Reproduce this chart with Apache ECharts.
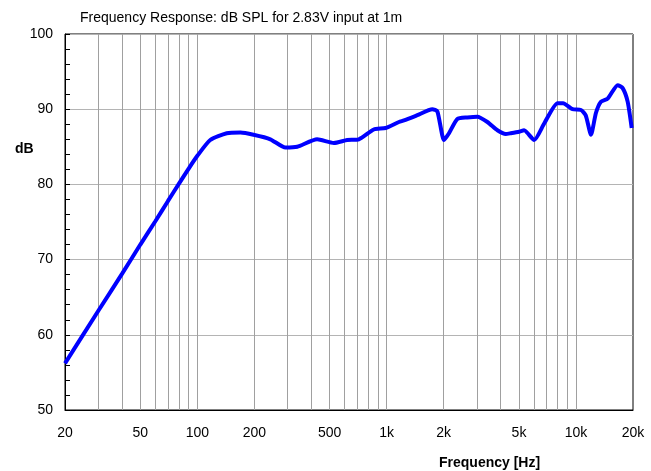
<!DOCTYPE html>
<html>
<head>
<meta charset="utf-8">
<script src="https://cdn.jsdelivr.net/npm/echarts@6/dist/echarts.min.js"></script>
<style>
  html, body { margin: 0; padding: 0; background: #fff; }
  #chart { width: 651px; height: 471px; }
</style>
</head>
<body>
<div id="chart"></div>
<script>
// frequency response (Hz, dB SPL)
var freqs = [20, 30, 40, 50, 60, 70, 80, 90, 100, 117, 143, 169, 198, 243, 292, 337, 429, 526, 619, 713,
  855, 987, 1161, 1234, 1452, 1742, 1853, 2008, 2134, 2362, 2667, 3013, 3404, 3845, 4255, 4520, 5003,
  5320, 6010, 6790, 7985, 8550, 9590, 10620, 11250, 12000, 12740, 13540, 14700, 16600, 17640, 18740, 19680];
var spl = [56.2, 63.2, 68.1, 72.0, 75.1, 77.8, 80.1, 82.1, 83.8, 85.9, 86.8, 86.9, 86.6, 86.0, 84.9, 85.0,
  86.0, 85.5, 85.9, 86.0, 87.3, 87.5, 88.3, 88.5, 89.2, 90.0, 89.7, 85.9, 86.8, 88.7, 88.9, 89.0, 88.3,
  87.2, 86.7, 86.8, 87.0, 87.2, 85.9, 88.1, 90.8, 90.8, 90.0, 89.9, 89.2, 86.6, 89.5, 91.0, 91.4, 93.2,
  92.8, 91.0, 87.5];

var xLabelValues = [20, 50, 100, 200, 500, 1000, 2000, 5000, 10000, 20000];
var xGridValues = [30, 40, 50, 60, 70, 80, 90, 100, 200, 300, 400, 500, 600, 700, 800, 900,
  1000, 2000, 3000, 4000, 5000, 6000, 7000, 8000, 9000, 10000];

var font = 'Liberation Sans, Arial, sans-serif';
var chart = echarts.init(document.getElementById('chart'));
chart.setOption({
  backgroundColor: '#ffffff',
  animation: false,
  title: [
    {
      text: 'Frequency Response: dB SPL for 2.83V input at 1m',
      left: 75, top: 6,
      textStyle: { fontFamily: font, fontSize: 14, fontWeight: 'normal', color: '#000' }
    },
    {
      text: 'dB',
      left: 10, top: 137,
      textStyle: { fontFamily: font, fontSize: 14, fontWeight: 'bold', color: '#000' }
    },
    {
      text: 'Frequency [Hz]',
      left: 434, top: 451,
      textStyle: { fontFamily: font, fontSize: 14, fontWeight: 'bold', color: '#000' }
    }
  ],
  grid: {
    left: 65, right: 18, top: 34, bottom: 61,
    show: true, borderColor: '#000', borderWidth: 1, backgroundColor: '#fff'
  },
  xAxis: {
    type: 'log',
    logBase: 10,
    min: 20,
    max: 20000,
    axisLine: { show: true, lineStyle: { color: '#000', width: 1 } },
    axisTick: { show: false, customValues: xGridValues },
    axisLabel: {
      customValues: xLabelValues,
      margin: 16,
      fontFamily: font, fontSize: 14, color: '#000',
      formatter: function (v) {
        return v >= 1000 ? (v / 1000) + 'k' : String(v);
      }
    },
    splitLine: { show: true, lineStyle: { color: '#a0a0a0', width: 1 } }
  },
  yAxis: {
    type: 'value',
    min: 50,
    max: 100,
    interval: 10,
    axisLine: { show: true, lineStyle: { color: '#000', width: 1 } },
    axisTick: { show: true, inside: true, length: 5, lineStyle: { color: '#000' } },
    minorTick: { show: true, splitNumber: 5, length: 5, lineStyle: { color: '#000' } },
    axisLabel: { margin: 12, fontFamily: font, fontSize: 14, color: '#000' },
    splitLine: { show: true, lineStyle: { color: '#b4b4b4', width: 1 } }
  },
  series: [
    {
      type: 'line',
      data: freqs.map(function (f, i) { return [f, spl[i]]; }),
      smooth: 0.2,
      showSymbol: false,
      lineStyle: { color: '#0000ff', width: 4 }
    }
  ]
});
</script>
</body>
</html>
